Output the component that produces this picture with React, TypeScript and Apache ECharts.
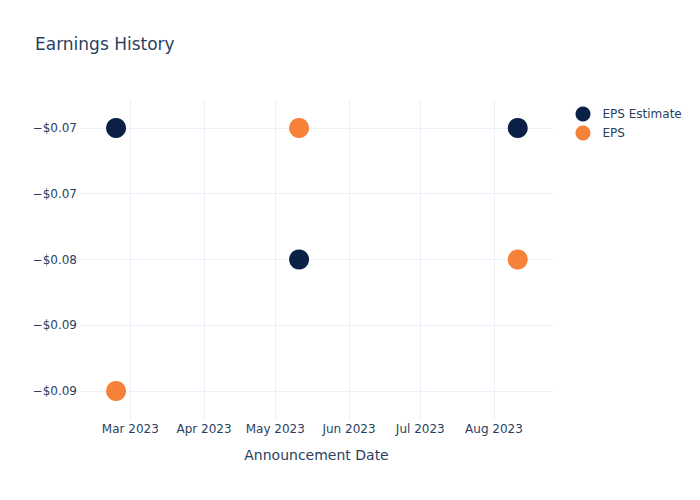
import React, { useEffect, useRef } from "react";
import * as echarts from "echarts";

const dates = ["2023-02-23", "2023-05-11", "2023-08-11"];
const epsEstimate = [-0.07, -0.08, -0.07];
const eps = [-0.09, -0.07, -0.08];

const yTicks = [-0.09, -0.085, -0.08, -0.075, -0.07];
const yTickLabels = ["−$0.09", "−$0.09", "−$0.08", "−$0.07", "−$0.07"];

const xTicks = ["2023-03-01", "2023-04-01", "2023-05-01", "2023-06-01", "2023-07-01", "2023-08-01"];
const xTickLabels = ["Mar 2023", "Apr 2023", "May 2023", "Jun 2023", "Jul 2023", "Aug 2023"];

const xRange = ["2023-02-07 20:00", "2023-08-25 20:00"];
const yRange = [-0.092205, -0.067871];

function ts(s: string): number {
  const [d, t] = s.split(" ");
  const [y, m, dd] = d.split("-").map(Number);
  let h = 0;
  if (t) h = Number(t.split(":")[0]);
  return Date.UTC(y, m - 1, dd, h);
}

const FONT = "DejaVu Sans";
const TXT = "#2a3f5f";
const GRID = "#ebf0f8";

function nearestLabel(v: number, ticks: number[], labels: string[]): string {
  let best = 0;
  for (let i = 0; i < ticks.length; i++) {
    if (Math.abs(ticks[i] - v) < Math.abs(ticks[best] - v)) best = i;
  }
  return labels[best];
}

export default function App() {
  const ref = useRef<HTMLDivElement>(null);
  useEffect(() => {
    if (!ref.current) return;
    const chart = echarts.init(ref.current, null, { renderer: "svg" });
    const xTickTs = xTicks.map(ts);
    chart.setOption({
      animation: false,
      backgroundColor: "#fff",
      textStyle: { fontFamily: FONT },
      title: {
        text: "Earnings History",
        left: 35,
        top: 35,
        padding: 0,
        textStyle: { fontFamily: FONT, fontSize: 17, fontWeight: "normal", color: TXT },
      },
      legend: {
        orient: "vertical",
        left: 575.5,
        top: 106.5,
        padding: 0,
        itemWidth: 15,
        itemHeight: 15,
        itemGap: 4,
        icon: "circle",
        textStyle: { fontFamily: FONT, fontSize: 12, color: TXT, padding: [0, 0, 0, 7] },
        data: ["EPS Estimate", "EPS"],
      },
      grid: { left: 80, top: 100, width: 473, height: 320, containLabel: false },
      xAxis: {
        type: "value",
        min: ts(xRange[0]),
        max: ts(xRange[1]),
        scale: true,
        name: "Announcement Date",
        nameLocation: "middle",
        nameGap: 28,
        nameTextStyle: { fontFamily: FONT, fontSize: 14, color: TXT },
        axisLine: { show: false },
        axisTick: { show: false, customValues: xTickTs },
        axisLabel: {
          customValues: xTickTs,
          margin: 3,
          fontFamily: FONT,
          fontSize: 12,
          color: TXT,
          hideOverlap: false,
          formatter: (v: number) => nearestLabel(v, xTickTs, xTickLabels),
        },
        splitLine: { show: true, lineStyle: { color: GRID, width: 1 } },
      },
      yAxis: {
        type: "value",
        min: yRange[0],
        max: yRange[1],
        axisLine: { show: false },
        axisTick: { show: false, customValues: yTicks },
        axisLabel: {
          customValues: yTicks,
          margin: 3,
          fontFamily: FONT,
          fontSize: 12,
          color: TXT,
          formatter: (v: number) => nearestLabel(v, yTicks, yTickLabels),
        },
        splitLine: { show: true, lineStyle: { color: GRID, width: 1 } },
      },
      series: [
        {
          name: "EPS Estimate",
          type: "scatter",
          symbol: "circle",
          symbolSize: 20,
          itemStyle: { color: "#0b2045", opacity: 1 },
          data: dates.map((d, i) => [ts(d), epsEstimate[i]]),
        },
        {
          name: "EPS",
          type: "scatter",
          symbol: "circle",
          symbolSize: 20,
          itemStyle: { color: "#f6823a", opacity: 1 },
          data: dates.map((d, i) => [ts(d), eps[i]]),
        },
      ],
    });
    return () => chart.dispose();
  }, []);
  return (
    <div
      ref={ref}
      style={{ position: "absolute", left: 0, top: 0, width: 700, height: 500 }}
    />
  );
}
